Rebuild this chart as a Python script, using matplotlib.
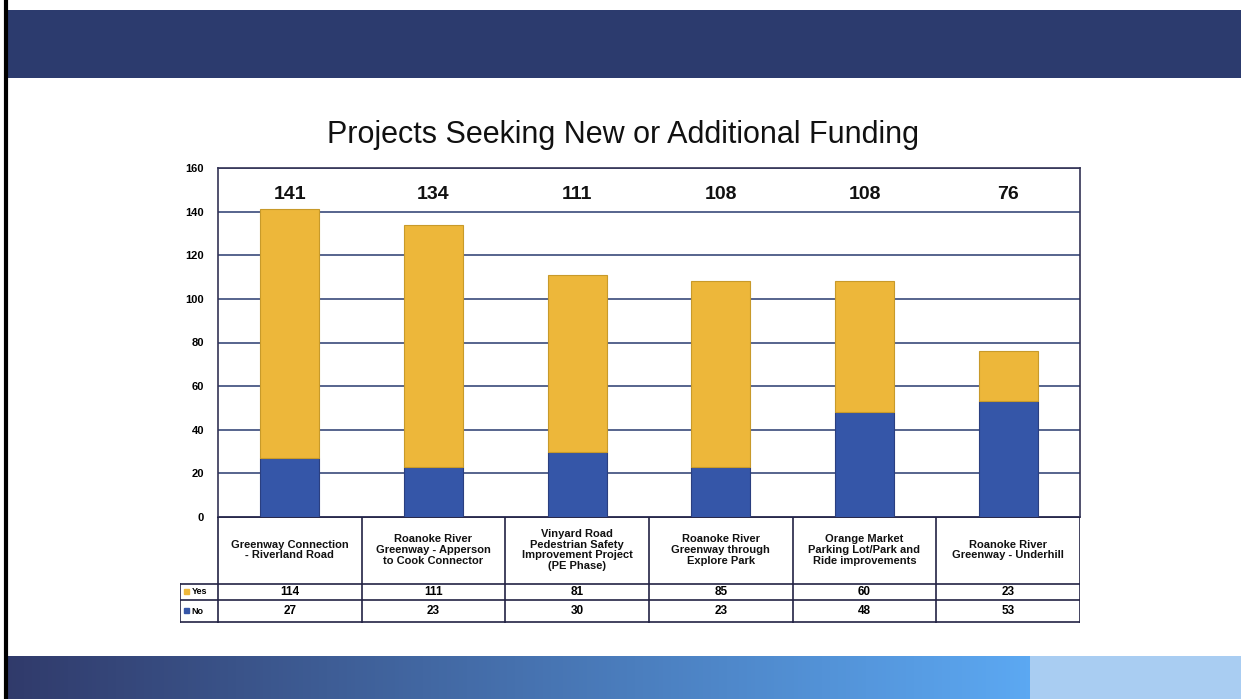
import numpy as np
import matplotlib
matplotlib.use("Agg")
import matplotlib.pyplot as plt
from matplotlib.patches import Rectangle

categories = [
    "Greenway Connection\n- Riverland Road",
    "Roanoke River\nGreenway - Apperson\nto Cook Connector",
    "Vinyard Road\nPedestrian Safety\nImprovement Project\n(PE Phase)",
    "Roanoke River\nGreenway through\nExplore Park",
    "Orange Market\nParking Lot/Park and\nRide improvements",
    "Roanoke River\nGreenway - Underhill",
]
yes_vals = [114, 111, 81, 85, 60, 23]
no_vals = [27, 23, 30, 23, 48, 53]
totals = [141, 134, 111, 108, 108, 76]
yticks = [0, 20, 40, 60, 80, 100, 120, 140, 160]
title = "Projects Seeking New or Additional Funding"

YES_C = "#EDB73A"
NO_C = "#3556A8"
W, H = 1241, 699
plt.rcParams['font.family'] = ['Liberation Sans', 'DejaVu Sans']

fig = plt.figure(figsize=(W / 100, H / 100), dpi=100)

def px_axes(x0, y0, x1, y1, **kw):
    return fig.add_axes([x0 / W, 1 - y1 / H, (x1 - x0) / W, (y1 - y0) / H], **kw)

# background decoration (slide)
bg = px_axes(0, 0, W, H)
bg.set_xlim(0, W); bg.set_ylim(H, 0); bg.axis('off')
bg.add_patch(Rectangle((8, 10), W - 8, 68, color="#2C3B6E", lw=0))
grad = np.linspace(0, 1, 256)
c0 = np.array([0.19, 0.23, 0.42]); c1 = np.array([0.36, 0.66, 0.95])
img = (c0[None, :] * (1 - grad[:, None]) + c1[None, :] * grad[:, None])[None, :, :]
bg.imshow(img, extent=(8, 1030, 699, 656), aspect='auto', zorder=1)
bg.add_patch(Rectangle((1030, 656), W - 1030, 43, color="#A9CDF2", lw=0, zorder=1))
bg.plot([6, 6], [0, H], color="black", lw=3)

# main chart
ax = px_axes(218, 168, 1080, 517)
x = np.arange(len(categories))
bw = 0.41
ax.bar(x, no_vals, bw, color=NO_C, edgecolor="#2A3F80", lw=0.8, zorder=3, label="No")
ax.bar(x, yes_vals, bw, bottom=no_vals, color=YES_C, edgecolor="#C89A2A", lw=0.8, zorder=3, label="Yes")
for xi, t in zip(x, totals):
    ax.text(xi, 148, str(t), ha='center', va='center', fontsize=14, fontweight='bold', color='#111111')
ax.set_xlim(-0.5, len(categories) - 0.5)
ax.set_ylim(0, 160)
ax.set_yticks(yticks)
ax.set_yticklabels([str(v) for v in yticks], fontsize=8, fontweight='bold')
ax.set_xticks([])
ax.tick_params(axis='y', length=0, pad=10)
ax.grid(axis='y', color="#3A4A7A", lw=1.2, zorder=1)
for s in ax.spines.values():
    s.set_color("#333355"); s.set_linewidth(1.2)

fig.text(623 / W, 1 - 135 / H, title, ha='center', va='center', fontsize=22, color='#111111')

# data table
tb = px_axes(180, 517, 1080, 623)
tb.set_xlim(-0.5 - 38 / 143.67, len(categories) - 0.5)
tb.set_ylim(623, 517)
tb.axis('off')
xl = -0.5 - 38 / 143.67
lc = "#222244"
for i in range(len(categories) + 1):
    tb.plot([i - 0.5, i - 0.5], [517, 623], color=lc, lw=1.2)
tb.plot([-0.5, 5.5], [517, 517], color=lc, lw=1.2)
tb.plot([xl, 5.5], [584, 584], color=lc, lw=1.2)
tb.plot([xl, 5.5], [600, 600], color=lc, lw=1.2)
tb.plot([xl, 5.5], [622, 622], color=lc, lw=1.2)
tb.plot([xl, xl], [584, 622], color=lc, lw=1.2)
for i, c in enumerate(categories):
    tb.text(i, 550, c, ha='center', va='center', fontsize=8, fontweight='bold',
            linespacing=1.1, color='#111111')
    tb.text(i, 592, str(yes_vals[i]), ha='center', va='center', fontsize=8.5, fontweight='bold')
    tb.text(i, 611, str(no_vals[i]), ha='center', va='center', fontsize=8.5, fontweight='bold')
tb.add_patch(Rectangle((xl + 0.03, 589), 0.035, 5, color=YES_C))
tb.add_patch(Rectangle((xl + 0.03, 608), 0.035, 5, color=NO_C))
tb.text(xl + 0.08, 592, "Yes", ha='left', va='center', fontsize=6.5, fontweight='bold')
tb.text(xl + 0.08, 611, "No", ha='left', va='center', fontsize=6.5, fontweight='bold')

fig.savefig("out.png", dpi=100)
